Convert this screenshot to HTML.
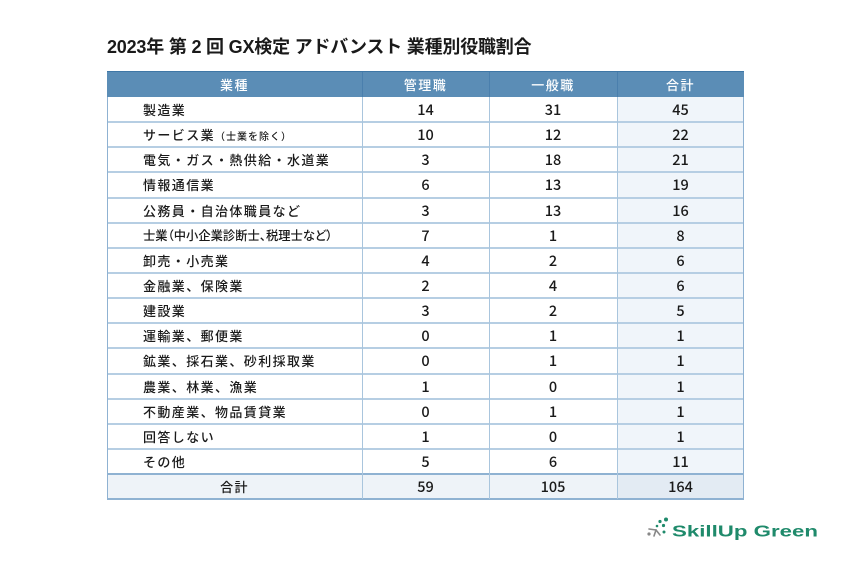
<!DOCTYPE html>
<html><head><meta charset="utf-8">
<style>
html,body{margin:0;padding:0;background:#fff;}
body{width:850px;height:567px;position:relative;overflow:hidden;font-family:"Liberation Sans","Noto Sans CJK JP",sans-serif;color:#1a1a1a;}
.title{position:absolute;left:107px;top:35px;font-size:18px;font-weight:700;letter-spacing:-0.2px;white-space:nowrap;font-family:"Liberation Sans","Noto Sans CJK JP",sans-serif;line-height:24px;}
.hdr{position:absolute;left:107px;top:71px;width:637px;height:26px;background:#5b8db6;border-top:1px solid #3f77a6;box-sizing:border-box;}
.hdr div{position:absolute;top:0;height:25px;line-height:25px;text-align:center;color:#fff;font-size:13px;font-weight:500;letter-spacing:1.5px;font-family:"Noto Sans CJK JP",sans-serif;}
.vh{position:absolute;top:0;width:1px;height:25px;background:#4a7fad;}
.row{position:absolute;left:107px;width:637px;height:25px;}
.row div{position:absolute;top:0;height:25px;line-height:25px;font-family:"Noto Sans CJK JP",sans-serif;font-weight:500;}
.c1{left:36px;width:219px;font-size:13px;letter-spacing:1.4px;white-space:nowrap;}
.n{text-align:center;font-size:14.5px;}
.c2{left:255px;width:127px;}
.c3{left:382px;width:128px;}
.c4{left:510px;width:127px;background:#f0f5fa;}
.hl{position:absolute;left:107px;width:637px;height:2px;background:#b6cee3;}
.vl{position:absolute;top:97px;width:1px;height:402px;background:#a9c5dd;}
.sm{font-size:10px;letter-spacing:1px;}
</style></head><body>
<div class="title">2023年 第 2 回 GX検定 アドバンスト 業種別役職割合</div>

<div class="hdr">
<div style="left:0;width:255px;">業種</div>
<div style="left:255px;width:127px;">管理職</div>
<div style="left:382px;width:128px;">一般職</div>
<div style="left:510px;width:127px;">合計</div>
<span class="vh" style="left:255px"></span>
<span class="vh" style="left:382px"></span>
<span class="vh" style="left:510px"></span>
</div>

<div class="row" style="top:97px"><div class="c1">製造業</div><div class="n c2">14</div><div class="n c3">31</div><div class="n c4">45</div></div>
<div class="row" style="top:122.1px"><div class="c1">サービス業<span class="sm">（士業を除く）</span></div><div class="n c2">10</div><div class="n c3">12</div><div class="n c4">22</div></div>
<div class="row" style="top:147.3px"><div class="c1">電気・ガス・熱供給・水道業</div><div class="n c2">3</div><div class="n c3">18</div><div class="n c4">21</div></div>
<div class="row" style="top:172.4px"><div class="c1">情報通信業</div><div class="n c2">6</div><div class="n c3">13</div><div class="n c4">19</div></div>
<div class="row" style="top:197.5px"><div class="c1">公務員・自治体職員など</div><div class="n c2">3</div><div class="n c3">13</div><div class="n c4">16</div></div>
<div class="row" style="top:222.7px"><div class="c1" style="font-size:12.3px;letter-spacing:0;font-feature-settings:'palt';">士業（中小企業診断士、税理士など）</div><div class="n c2">7</div><div class="n c3">1</div><div class="n c4">8</div></div>
<div class="row" style="top:247.8px"><div class="c1">卸売・小売業</div><div class="n c2">4</div><div class="n c3">2</div><div class="n c4">6</div></div>
<div class="row" style="top:272.9px"><div class="c1">金融業、保険業</div><div class="n c2">2</div><div class="n c3">4</div><div class="n c4">6</div></div>
<div class="row" style="top:298.1px"><div class="c1">建設業</div><div class="n c2">3</div><div class="n c3">2</div><div class="n c4">5</div></div>
<div class="row" style="top:323.2px"><div class="c1">運輸業、郵便業</div><div class="n c2">0</div><div class="n c3">1</div><div class="n c4">1</div></div>
<div class="row" style="top:348.3px"><div class="c1">鉱業、採石業、砂利採取業</div><div class="n c2">0</div><div class="n c3">1</div><div class="n c4">1</div></div>
<div class="row" style="top:373.5px"><div class="c1">農業、林業、漁業</div><div class="n c2">1</div><div class="n c3">0</div><div class="n c4">1</div></div>
<div class="row" style="top:398.6px"><div class="c1">不動産業、物品賃貸業</div><div class="n c2">0</div><div class="n c3">1</div><div class="n c4">1</div></div>
<div class="row" style="top:423.7px"><div class="c1">回答しない</div><div class="n c2">1</div><div class="n c3">0</div><div class="n c4">1</div></div>
<div class="row" style="top:448.9px"><div class="c1">その他</div><div class="n c2">5</div><div class="n c3">6</div><div class="n c4">11</div></div>
<div class="row" style="top:474px;background:#eef3f8;"><div class="n" style="left:0;width:255px;font-size:13px;letter-spacing:1.4px;">合計</div><div class="n c2">59</div><div class="n c3">105</div><div class="n c4" style="background:#e3ebf3;">164</div></div>

<div class="hl" style="top:121.1px"></div>
<div class="hl" style="top:146.3px"></div>
<div class="hl" style="top:171.4px"></div>
<div class="hl" style="top:196.5px"></div>
<div class="hl" style="top:221.7px"></div>
<div class="hl" style="top:246.8px"></div>
<div class="hl" style="top:271.9px"></div>
<div class="hl" style="top:297.1px"></div>
<div class="hl" style="top:322.2px"></div>
<div class="hl" style="top:347.3px"></div>
<div class="hl" style="top:372.5px"></div>
<div class="hl" style="top:397.6px"></div>
<div class="hl" style="top:422.7px"></div>
<div class="hl" style="top:447.9px"></div>
<div class="hl" style="top:473px;background:#8fb2d2;height:1.5px;"></div>
<div class="hl" style="top:498px;background:#8fb2d2;height:1.5px;"></div>

<div class="vl" style="left:107px;background:#8fb2d2;"></div>
<div class="vl" style="left:362px"></div>
<div class="vl" style="left:489px"></div>
<div class="vl" style="left:617px"></div>
<div class="vl" style="left:743px;background:#8fb2d2;"></div>

<svg style="position:absolute;left:640px;top:512px" width="190" height="34" viewBox="0 0 190 34">
<g fill="#1f8a6b">
<circle cx="26" cy="7.5" r="2"/>
<circle cx="20" cy="9.5" r="1.6"/>
<circle cx="23.5" cy="13.5" r="1.6"/>
<circle cx="17" cy="14" r="1.3"/>
<circle cx="24" cy="20" r="1.5"/>
</g>
<g stroke="#888" stroke-width="1.6" stroke-linecap="round">
<line x1="16" y1="18" x2="14" y2="24"/>
<line x1="16" y1="18" x2="9" y2="17"/>
<line x1="16" y1="18" x2="20" y2="23"/>
<circle cx="9" cy="22" r="0.8" fill="#888"/>
</g>
<text x="32" y="24.5" textLength="146" lengthAdjust="spacingAndGlyphs" font-family="Liberation Sans, sans-serif" font-weight="700" font-size="16" fill="#1f8a6b">SkillUp Green</text>
</svg>
</body></html>
